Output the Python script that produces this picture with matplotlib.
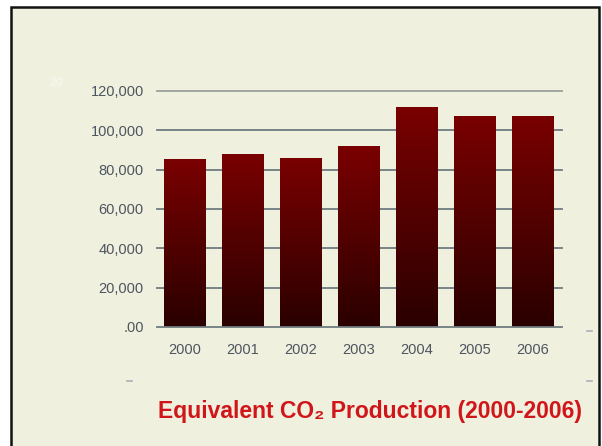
import matplotlib
matplotlib.use("Agg")
import matplotlib.pyplot as plt
import numpy as np
from matplotlib.patches import Rectangle
from matplotlib.lines import Line2D
from matplotlib.colors import LinearSegmentedColormap

years = ['2000', '2001', '2002', '2003', '2004', '2005', '2006']
co2 = [85400, 88000, 86000, 92000, 111900, 107300, 107300]
yticks = [0, 20000, 40000, 60000, 80000, 100000, 120000]
ylabels = ['.00', '20,000', '40,000', '60,000', '80,000', '100,000', '120,000']
title = 'Equivalent CO\u2082 Production (2000-2006)'

W, H = 602, 446
plt.rcParams['font.family'] = ['Liberation Sans', 'DejaVu Sans']

fig = plt.figure(figsize=(W / 100, H / 100), dpi=100)
fig.patch.set_facecolor('white')

# slide panel with black border
panel = Rectangle((11 / W, -0.05), 588 / W, (H - 7) / H + 0.05, transform=fig.transFigure,
                  facecolor='#f0f0de', edgecolor='#111111', linewidth=1.8, zorder=-5)
fig.patches.append(panel)

ax = fig.add_axes([157 / W, (H - 327) / H, (562 - 157) / W, (327 - 91) / H])
ax.set_facecolor('none')
for s in ax.spines.values():
    s.set_visible(False)

x = np.arange(len(years))
bars = ax.bar(x, co2, width=0.72, color='none', edgecolor='none', zorder=3)

# vertical gradient inside each bar
cmap = LinearSegmentedColormap.from_list('red', ['#2a0000', '#7a0000'])
grad = np.linspace(0, 1, 256).reshape(-1, 1)
for b in bars:
    bx, by, bw, bh = b.get_x(), b.get_y(), b.get_width(), b.get_height()
    im = ax.imshow(grad, extent=[bx, bx + bw, by, by + bh], origin='lower',
                   aspect='auto', cmap=cmap, zorder=3)
    im.set_clip_path(b)

for t in yticks[1:]:
    c = '#9aa09c' if t == yticks[-1] else '#6f7b80'
    ax.axhline(t, color=c, linewidth=1.3, zorder=2, clip_on=False)
ax.axhline(0, color='#6f7b80', linewidth=1.3, zorder=4, clip_on=False)

ax.set_xlim(-0.48, len(years) - 0.5)
ax.set_ylim(0, 120000)
ax.set_xticks(x)
ax.set_xticklabels(years)
ax.set_yticks(yticks)
ax.set_yticklabels(ylabels)
ax.tick_params(axis='x', length=0, pad=11.5, labelsize=10.5, labelcolor='#4d5560')
ax.tick_params(axis='y', length=0, pad=9.5, labelsize=10.5, labelcolor='#4d5560')

fig.text(370 / W, (H - 418) / H, title, ha='center', va='baseline',
         fontsize=16.5, fontweight='bold', color='#d0161a')

fig.text(57 / W, (H - 83) / H, '20', ha='center', va='center', fontsize=9,
         fontweight='bold', color='#f6f6ec')

for px, py in [(129, 381), (589, 331), (589, 381)]:
    fig.add_artist(Line2D([(px - 2.5) / W, (px + 2.5) / W], [(H - py) / H] * 2,
                          transform=fig.transFigure, color='#a8b0b8', linewidth=1.2))

fig.savefig('out.png', dpi=100, facecolor=fig.get_facecolor())
